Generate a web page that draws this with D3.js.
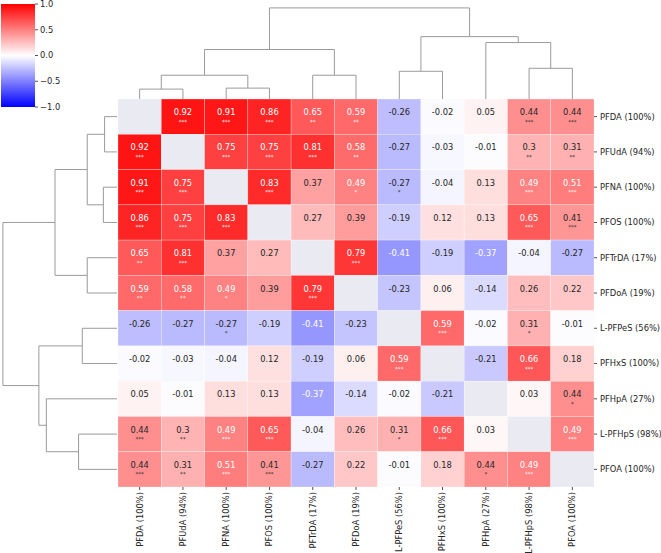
<!DOCTYPE html>
<html>
<head>
<meta charset="utf-8">
<script src="https://cdn.jsdelivr.net/npm/d3@7"></script>
<style>
  html, body { margin: 0; padding: 0; background: #fff; }
  svg { display: block; font-family: "DejaVu Sans", sans-serif; }
</style>
</head>
<body>
<svg id="chart" width="661" height="553"></svg>
<script>
// ---------- data ----------
const labels = ["PFDA (100%)", "PFUdA (94%)", "PFNA (100%)", "PFOS (100%)", "PFTrDA (17%)", "PFDoA (19%)",
                "L-PFPeS (56%)", "PFHxS (100%)", "PFHpA (27%)", "L-PFHpS (98%)", "PFOA (100%)"];

const corr = [
  [null, 0.92, 0.91, 0.86, 0.65, 0.59, -0.26, -0.02, 0.05, 0.44, 0.44],
  [0.92, null, 0.75, 0.75, 0.81, 0.58, -0.27, -0.03, -0.01, 0.3, 0.31],
  [0.91, 0.75, null, 0.83, 0.37, 0.49, -0.27, -0.04, 0.13, 0.49, 0.51],
  [0.86, 0.75, 0.83, null, 0.27, 0.39, -0.19, 0.12, 0.13, 0.65, 0.41],
  [0.65, 0.81, 0.37, 0.27, null, 0.79, -0.41, -0.19, -0.37, -0.04, -0.27],
  [0.59, 0.58, 0.49, 0.39, 0.79, null, -0.23, 0.06, -0.14, 0.26, 0.22],
  [-0.26, -0.27, -0.27, -0.19, -0.41, -0.23, null, 0.59, -0.02, 0.31, -0.01],
  [-0.02, -0.03, -0.04, 0.12, -0.19, 0.06, 0.59, null, -0.21, 0.66, 0.18],
  [0.05, -0.01, 0.13, 0.13, -0.37, -0.14, -0.02, -0.21, null, 0.03, 0.44],
  [0.44, 0.3, 0.49, 0.65, -0.04, 0.26, 0.31, 0.66, 0.03, null, 0.49],
  [0.44, 0.31, 0.51, 0.41, -0.27, 0.22, -0.01, 0.18, 0.44, 0.49, null]
];

const stars = [
  ["", "***", "***", "***", "**", "**", "", "", "", "***", "***"],
  ["***", "", "***", "***", "***", "**", "", "", "", "**", "**"],
  ["***", "***", "", "***", "", "*", "*", "", "", "***", "***"],
  ["***", "***", "***", "", "", "", "", "", "", "***", "***"],
  ["**", "***", "", "", "", "***", "", "", "", "", ""],
  ["**", "**", "*", "", "***", "", "", "", "", "", ""],
  ["", "", "*", "", "", "", "", "***", "", "*", ""],
  ["", "", "", "", "", "", "***", "", "", "***", ""],
  ["", "", "", "", "", "", "", "", "", "", "*"],
  ["***", "**", "***", "***", "", "", "*", "***", "", "", "***"],
  ["***", "**", "***", "***", "", "", "", "", "*", "***", ""]
];

// hierarchical clustering merges: [childA, childB, height]; new nodes get ids 11, 12, ...
const linkage = [
  [0, 1, 0.10],
  [2, 3, 0.11],
  [11, 12, 0.24],
  [4, 5, 0.24],
  [13, 14, 0.50],
  [6, 7, 0.28],
  [9, 10, 0.31],
  [8, 17, 0.57],
  [16, 18, 0.63],
  [15, 19, 0.92]
];

const cbTicks = [1.0, 0.5, 0.0, -0.5, -1.0];

// ---------- drawing ----------
const svg = d3.select("#chart");
const n = labels.length;
const textColorDark = "#262626";

const x = d3.scaleBand().domain(d3.range(n)).range([118, 594]);
const y = d3.scaleBand().domain(d3.range(n)).range([99, 487]);
const color = d3.scaleLinear().domain([-1, 0, 1]).range(["#0000ff", "#ffffff", "#ff0000"]);

function lum(c) {
  const r = d3.rgb(c);
  const f = v => { v /= 255; return v <= 0.03928 ? v / 12.92 : Math.pow((v + 0.055) / 1.055, 2.4); };
  return 0.2126 * f(r.r) + 0.7152 * f(r.g) + 0.0722 * f(r.b);
}

const cells = [];
corr.forEach((row, i) => row.forEach((v, j) => cells.push({ i, j, v, s: stars[i][j] })));

const gCells = svg.append("g");
gCells.selectAll("rect").data(cells).join("rect")
  .attr("x", d => x(d.j))
  .attr("y", d => y(d.i))
  .attr("width", x.bandwidth())
  .attr("height", y.bandwidth())
  .attr("fill", d => d.v === null ? "#EAEAF2" : color(d.v))
  .attr("stroke", "#ffffff")
  .attr("stroke-opacity", 0.5)
  .attr("stroke-width", 0.5);

const annot = cells.filter(d => d.v !== null);
const gTxt = svg.append("g").attr("text-anchor", "middle");
gTxt.selectAll("text.val").data(annot).join("text")
  .attr("class", "val")
  .attr("x", d => x(d.j) + x.bandwidth() / 2)
  .attr("y", d => y(d.i) + y.bandwidth() / 2 - 1.5)
  .attr("font-size", 8.3)
  .attr("fill", d => lum(color(d.v)) > 0.408 ? textColorDark : "#ffffff")
  .text(d => String(d.v));
gTxt.selectAll("text.star").data(annot.filter(d => d.s)).join("text")
  .attr("class", "star")
  .attr("x", d => x(d.j) + x.bandwidth() / 2)
  .attr("y", d => y(d.i) + y.bandwidth() / 2 + 7)
  .attr("font-size", 5.6)
  .attr("fill", d => lum(color(d.v)) > 0.408 ? textColorDark : "#ffffff")
  .text(d => d.s);

// row labels (right)
const gRow = svg.append("g");
labels.forEach((lab, i) => {
  const cy = y(i) + y.bandwidth() / 2;
  gRow.append("line").attr("x1", 594).attr("x2", 597).attr("y1", cy).attr("y2", cy)
    .attr("stroke", textColorDark).attr("stroke-width", 0.8);
  gRow.append("text").attr("x", 600).attr("y", cy).attr("dy", "0.35em")
    .attr("font-size", 8.33).attr("fill", textColorDark).text(lab);
});

// column labels (bottom, rotated)
const gCol = svg.append("g");
labels.forEach((lab, j) => {
  const cx = x(j) + x.bandwidth() / 2;
  gCol.append("line").attr("x1", cx).attr("x2", cx).attr("y1", 487).attr("y2", 490)
    .attr("stroke", textColorDark).attr("stroke-width", 0.8);
  gCol.append("text")
    .attr("transform", `translate(${cx},492) rotate(-90)`)
    .attr("text-anchor", "end").attr("dy", "0.35em")
    .attr("font-size", 8.33).attr("fill", textColorDark).text(lab);
});

// dendrograms
const pos = labels.map((_, i) => x(i) + x.bandwidth() / 2);
const posR = labels.map((_, i) => y(i) + y.bandwidth() / 2);
const hgt = labels.map(() => 0);
linkage.forEach(([a, b, h]) => {
  pos.push((pos[a] + pos[b]) / 2);
  posR.push((posR[a] + posR[b]) / 2);
  hgt.push(h);
});

const hTop = d3.scaleLinear().domain([0, 1]).range([99, 0]);
const hLeft = d3.scaleLinear().domain([0, 1]).range([117, -7]);
const dendroColor = "#9a9a9a";

const gTop = svg.append("g").attr("fill", "none").attr("stroke", dendroColor).attr("stroke-width", 1);
linkage.forEach(([a, b, h]) => {
  gTop.append("path").attr("d",
    `M${pos[a]},${hTop(hgt[a])}V${hTop(h)}H${pos[b]}V${hTop(hgt[b])}`);
});

const gLeft = svg.append("g").attr("fill", "none").attr("stroke", dendroColor).attr("stroke-width", 1);
linkage.forEach(([a, b, h]) => {
  gLeft.append("path").attr("d",
    `M${hLeft(hgt[a])},${posR[a]}H${hLeft(h)}V${posR[b]}H${hLeft(hgt[b])}`);
});

// colorbar
const defs = svg.append("defs");
const grad = defs.append("linearGradient").attr("id", "cbgrad")
  .attr("x1", 0).attr("y1", 0).attr("x2", 0).attr("y2", 1);
grad.append("stop").attr("offset", "0%").attr("stop-color", color(1));
grad.append("stop").attr("offset", "50%").attr("stop-color", color(0));
grad.append("stop").attr("offset", "100%").attr("stop-color", color(-1));

const cbY = d3.scaleLinear().domain([-1, 1]).range([107, 4]);
svg.append("rect").attr("x", 1).attr("y", cbY(1)).attr("width", 34)
  .attr("height", cbY(-1) - cbY(1)).attr("fill", "url(#cbgrad)");
const fmt = d3.format(".1f");
const gCb = svg.append("g");
cbTicks.forEach(t => {
  gCb.append("line").attr("x1", 35).attr("x2", 38).attr("y1", cbY(t)).attr("y2", cbY(t))
    .attr("stroke", textColorDark).attr("stroke-width", 0.8);
  gCb.append("text").attr("x", 40).attr("y", cbY(t)).attr("dy", "0.35em")
    .attr("font-size", 8.33).attr("fill", textColorDark).text(fmt(t));
});
</script>
</body>
</html>
